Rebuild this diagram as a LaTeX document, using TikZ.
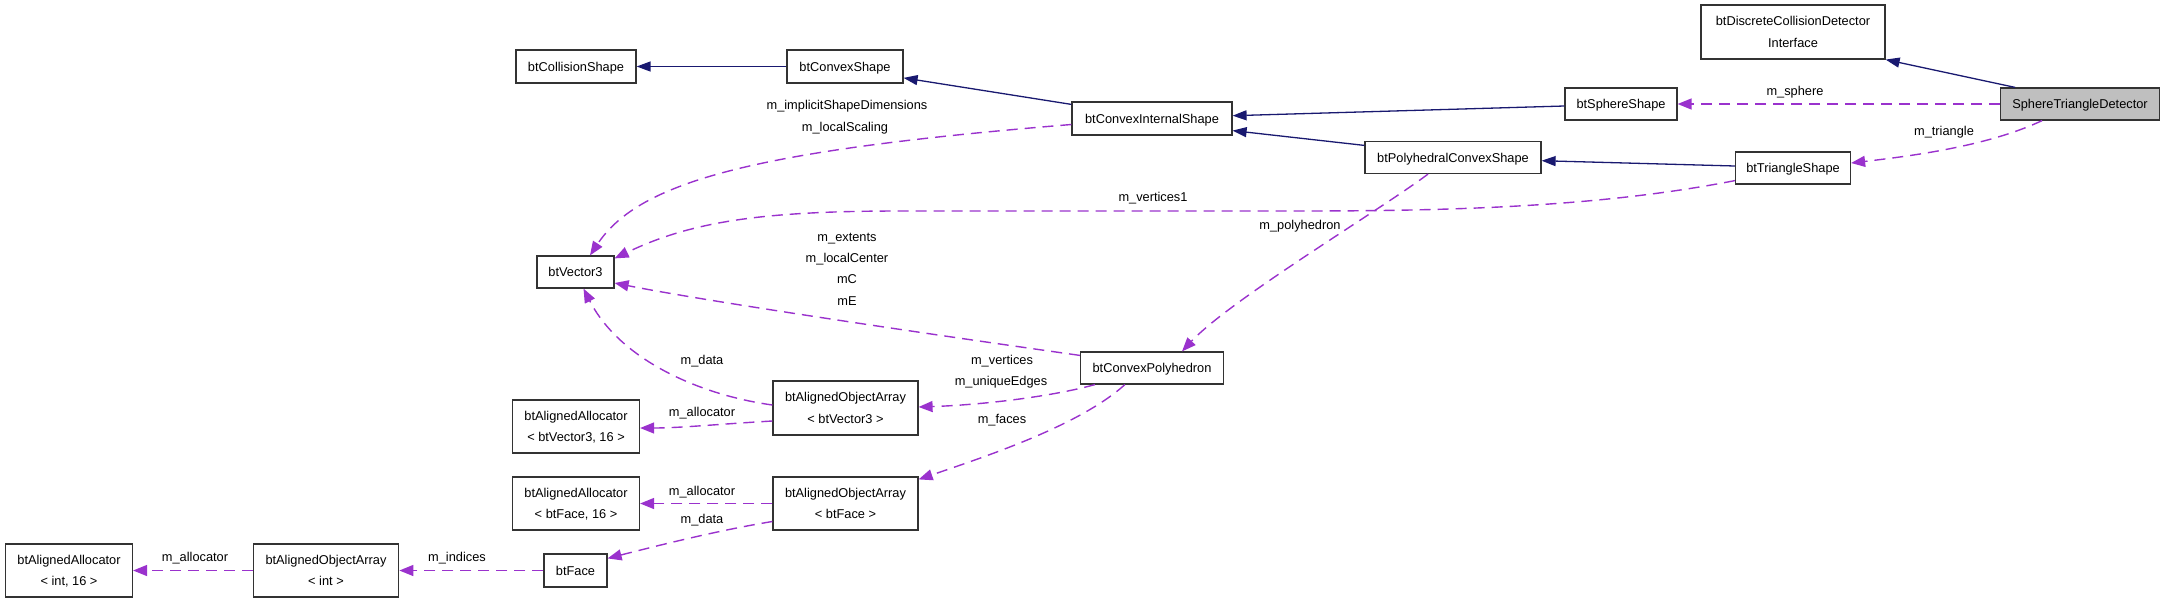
\documentclass[tikz,border=0pt]{standalone}
\usepackage{fontspec}
\setmainfont{Liberation Sans}
\usetikzlibrary{arrows.meta}
\definecolor{inhc}{HTML}{191970}
\definecolor{compc}{HTML}{9A32CD}
\definecolor{boxc}{HTML}{333333}
\begin{document}
\begin{tikzpicture}[x=1pt,y=-1pt,
  every node/.style={font=\fontsize{12.8}{21.5}\selectfont, inner sep=0pt},
  box/.style={draw=boxc, line width=1.2pt, fill=white, minimum height=32pt, text height=9.2pt, text depth=0pt},
  box2/.style={box, align=center, minimum height=53pt, text height=30.7pt, text depth=0pt},
  lbl/.style={text height=9.2pt, text depth=0pt},
  inh/.style={draw=inhc, line width=1.3pt, -{Triangle[length=14pt,width=10pt]}},
  comp/.style={draw=compc, line width=1.4pt, dash pattern=on 11pt off 7pt, -{Triangle[length=14pt,width=11pt]}},
]
\useasboundingbox (0,0) rectangle (2165,603);

% nodes
\node[box, fill=black!25, minimum width=158.6pt] (SDT) at (2080,104) {SphereTriangleDetector};
\node[box2, minimum width=184pt, minimum height=54pt] (DCDI) at (1793,32) {btDiscreteCollisionDetector\\Interface};
\node[box, minimum width=112pt] (Sphere) at (1621,104) {btSphereShape};
\node[box, minimum width=115pt] (Tri) at (1793,168) {btTriangleShape};
\node[box, minimum width=176pt] (Poly) at (1453,157.5) {btPolyhedralConvexShape};
\node[box, minimum width=160pt, minimum height=33pt] (CIS) at (1152,118.5) {btConvexInternalShape};
\node[box, minimum width=116pt, minimum height=33pt] (CS) at (845,66.5) {btConvexShape};
\node[box, minimum width=120pt, minimum height=33pt] (Coll) at (576,66.5) {btCollisionShape};
\node[box, minimum width=77pt] (V3) at (575.5,272) {btVector3};
\node[box, minimum width=143pt] (CP) at (1152,368) {btConvexPolyhedron};
\node[box2, minimum width=145pt, minimum height=54pt] (AOAV) at (845.5,408) {btAlignedObjectArray\\< btVector3 >};
\node[box2, minimum width=145pt] (AOAF) at (845.5,503.5) {btAlignedObjectArray\\< btFace >};
\node[box2, minimum width=127pt] (AAV) at (576,426.5) {btAlignedAllocator\\< btVector3, 16 >};
\node[box2, minimum width=127pt] (AAF) at (576,503.5) {btAlignedAllocator\\< btFace, 16 >};
\node[box, minimum width=63pt, minimum height=33pt] (Face) at (575.5,570.5) {btFace};
\node[box2, minimum width=145.5pt] (AOAI) at (326,570.5) {btAlignedObjectArray\\< int >};
\node[box2, minimum width=127pt] (AAI) at (69,570.5) {btAlignedAllocator\\< int, 16 >};

% inheritance
\draw[inh] ([xshift=15pt]SDT.north west) -- (DCDI.south east);
\draw[inh] ([yshift=-2pt]Sphere.west) -- ([yshift=2.8pt]CIS.east);
\draw[inh] ([yshift=-4.5pt]Poly.north west) -- ([yshift=5pt]CIS.south east);
\draw[inh] ([yshift=2pt]Tri.west) -- ([yshift=-3.2pt]Poly.east);
\draw[inh] ([yshift=-3pt]CIS.north west) -- ([yshift=5.7pt]CS.south east);
\draw[inh] (CS.west) -- (Coll.east);

% composition
\draw[comp] (SDT.west) -- (Sphere.east);
\draw[comp] ([xshift=42pt]SDT.south west) .. controls (1990,145) and (1920,155) .. ([yshift=5pt]Tri.east);
\draw[comp] ([yshift=-6pt]CIS.west) .. controls (760,150) and (640,180) .. ([xshift=14.5pt]V3.north);
\coordinate (v1a) at (1300,211);
\coordinate (v1b) at (900,211);
\draw[comp] ([yshift=4pt]Tri.south west) .. controls (1600,207) and (1450,211) .. (v1a) -- (v1b) .. controls (760,211) and (690,222) .. ([yshift=-3pt]V3.north east);
\draw[comp] ([yshift=-4pt]CP.north west) .. controls (900,330) and (700,300) .. ([yshift=-11pt]V3.east);
\draw[comp] ([xshift=-25pt]Poly.south) .. controls (1380,210) and (1230,300) .. ([xshift=30pt]CP.north);
\draw[comp] ([xshift=15pt]CP.south west) .. controls (1050,397) and (980,405) .. ([yshift=1pt]AOAV.east);
\draw[comp] ([xshift=45pt]CP.south west) .. controls (1080,425) and (990,455) .. ([yshift=-3pt]AOAF.north east);
\draw[comp] ([yshift=3pt]AOAV.west) .. controls (700,395) and (620,360) .. ([xshift=8pt]V3.south);
\draw[comp] ([yshift=-13pt]AOAV.west) .. controls (720,424) and (680,428) .. ([yshift=-1.5pt]AAV.east);
\draw[comp] (AOAF.west) -- (AAF.east);
\draw[comp] ([yshift=-18pt]AOAF.west) .. controls (720,530) and (660,545) .. ([yshift=-5pt]Face.north east);
\draw[comp] (Face.west) -- (AOAI.east);
\draw[comp] (AOAI.west) -- (AAI.east);

% labels
\node[lbl] (l1) at (1795,91) {m\_sphere};
\node[lbl] (l2) at (1944,131) {m\_triangle};
\node[lbl] (l3) at (847,105) {m\_implicitShapeDimensions};
\node[lbl] (l4) at (845,127) {m\_localScaling};
\node[lbl] (l5) at (1153,197) {m\_vertices1};
\node[lbl] (l6) at (1300,225) {m\_polyhedron};
\node[lbl] (l7) at (847,237) {m\_extents};
\node[lbl] (l8) at (847,258) {m\_localCenter};
\node[lbl] (l9) at (847,279) {mC};
\node[lbl] (l10) at (847,301) {mE};
\node[lbl] (l11) at (702,360) {m\_data};
\node[lbl] (l12) at (702,411.7) {m\_allocator};
\node[lbl] (l13) at (1002,360) {m\_vertices};
\node[lbl] (l14) at (1001,381) {m\_uniqueEdges};
\node[lbl] (l15) at (1002,419) {m\_faces};
\node[lbl] (l16) at (702,491) {m\_allocator};
\node[lbl] (l17) at (702,519) {m\_data};
\node[lbl] (l18) at (457,557) {m\_indices};
\node[lbl] (l19) at (195,557) {m\_allocator};
\end{tikzpicture}
\end{document}
